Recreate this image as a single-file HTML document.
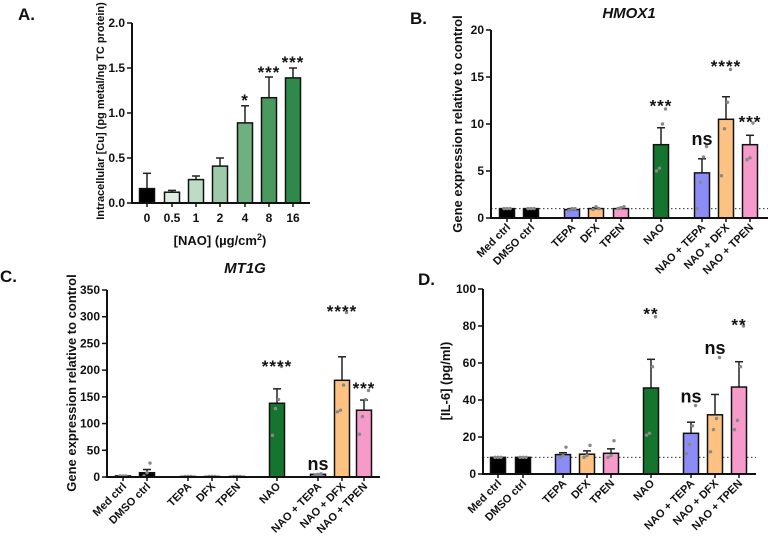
<!DOCTYPE html>
<html><head><meta charset="utf-8"><style>
body{margin:0;background:#fff;}
svg text{font-family:"Liberation Sans",sans-serif;font-weight:bold;fill:#111;}
</style></head><body>
<svg id="fig" width="768" height="536" viewBox="0 0 768 536" xmlns="http://www.w3.org/2000/svg"></svg>
<script>
// Panel A data
const aCats=["0","0.5","1","2","4","8","16"];
const aVals=[0.16,0.12,0.26,0.41,0.89,1.17,1.39];
const aErr=[0.33,0.14,0.30,0.50,1.08,1.40,1.50];
const aSig=["","","","","*","***","***"];
const aSigY=[null,null,null,null,1.19,1.50,1.61];
const aTicks=[0,0.5,1.0,1.5,2.0];
// Shared categories for B, C, D
const grpCats=["Med ctrl","DMSO ctrl","TEPA","DFX","TPEN","NAO","NAO + TEPA","NAO + DFX","NAO + TPEN"];
// Panel B
const bVals=[1,1,0.9,1,1,7.8,4.8,10.5,7.8];
const bErr=[1,1,1,1.1,1.1,9.6,6.3,12.9,8.8];
const bSig=["","","","","","***","ns","****","***"];
const bSigY=[null,null,null,null,null,12.4,8.4,16.6,10.7];
const bPts=[[1,1,1],[1,1,1],[0.8,1,1],[0.9,1.2,1],[1,1.1,1.2],[5,5.3,10,11.6],[1,3.8,6.5,7.6],[4.5,9.5,12.3,15.8],[6.2,6.4,10.1]];
const bTicks=[0,5,10,15,20];
// Panel C
const cVals=[2,8,1,1,1,138,5,181,125];
const cErr=[2,14,1,1,1,165,5,225,144];
const cSig=["","","","","","****","ns","****","***"];
const cSigY=[null,null,null,null,null,215,24,318,174];
const cPts=[[2,2,2],[2,8,26],[1,1,1],[1,1,1],[1,1,1],[78,128,145,207],[3,5,6],[122,125,172,308],[80,113,145,162]];
const cTicks=[0,50,100,150,200,250,300,350];
// Panel D
const dVals=[9,9,10.5,10.7,11.2,46.5,22,32,47];
const dErr=[9,9,11.5,12.5,13.6,62,28,43,60.7];
const dSig=["","","","","","**","ns","ns","**"];
const dSigY=[null,null,null,null,null,89,42,68,83];
const dPts=[[9,9,9],[9,9,9],[9,10,14.5],[9,10,15.5],[9,10,18],[21,22,58,85],[11,16,26,37],[12,24,30,63],[24,29,58,80]];
const dTicks=[0,20,40,60,80,100];

const grpColors=["#000","#000","#8b8cf6","#fdc282","#f69ac9","#15752f","#8b8cf6","#fdc282","#f69ac9"];
const aColors=["#000","#dcede1","#bddcc6","#9dcaa8","#6eb080","#4a9a5f","#2d8a4a"];
const NS="http://www.w3.org/2000/svg";
const svg=document.getElementById('fig');
function mk(tag,attrs,parent){const e=document.createElementNS(NS,tag);for(const k in attrs)e.setAttribute(k,attrs[k]);(parent||svg).appendChild(e);return e;}
function txt(x,y,s,size,anchor,extra){const t=mk('text',Object.assign({x:x,y:y,'font-size':size,'text-anchor':anchor||'middle'},extra||{}));t.textContent=s;return t;}

function panel(cfg){
  const g=mk('g',{});
  
  
  const y=v=>cfg.y0-(v-cfg.min)/(cfg.max-cfg.min)*(cfg.y0-cfg.y1);
  const xs=cfg.xs;
  if(cfg.ref!=null){const l=mk('line',{x1:cfg.ax,x2:cfg.axEnd,y1:y(cfg.ref),y2:y(cfg.ref),stroke:'#333','stroke-width':1,'stroke-dasharray':'1.5,2.5'},g);
    }
  cfg.vals.forEach((v,i)=>{
    const cx=xs[i],top=y(v);
    const eb=mk('line',{x1:cx,x2:cx,y1:y(cfg.err[i]),y2:top,stroke:'#222','stroke-width':1.5},g);
    
    mk('line',{x1:cx-4,x2:cx+4,y1:y(cfg.err[i]),y2:y(cfg.err[i]),stroke:'#222','stroke-width':1.5},g);
    const r=mk('rect',{x:cx-cfg.bw/2,y:top,width:cfg.bw,height:cfg.y0-top,fill:cfg.colors[i],stroke:'#111','stroke-width':1.5},g);
    
    
    if(cfg.pts){cfg.pts[i].forEach((p,j)=>{const n=cfg.pts[i].length;const c=mk('circle',{cx:cx+(n>1?(j-(n-1)/2)*3:0),cy:y(p),r:1.7,fill:'#888'},g);
      });}
    if(cfg.sig[i]){const s=cfg.sig[i];const isNs=s==='ns';
      const t=txt(cx,y(cfg.sigY[i])+(isNs?6:10),s,isNs?18:17,'middle',{'letter-spacing':isNs?0:1});
      g.appendChild(t);}
    mk('line',{x1:cx,x2:cx,y1:cfg.y0,y2:cfg.y0+4,stroke:'#111','stroke-width':1.5},g);
    let lt;
    if(cfg.rot){lt=txt(cx+4,cfg.y0+10,cfg.cats[i],11,'end',{transform:`rotate(-45 ${cx+4} ${cfg.y0+10})`});}
    else{lt=txt(cx,cfg.y0+19,cfg.cats[i],12,'middle');}
    g.appendChild(lt);
  });
  const ya=mk('line',{x1:cfg.ax,x2:cfg.ax,y1:cfg.y1,y2:cfg.y0+0.75,stroke:'#111','stroke-width':2},g);
  
  const xa=mk('line',{x1:cfg.ax-1,x2:cfg.axEnd,y1:cfg.y0,y2:cfg.y0,stroke:'#111','stroke-width':2},g);
  
  cfg.ticks.forEach(tv=>{mk('line',{x1:cfg.ax-5,x2:cfg.ax,y1:y(tv),y2:y(tv),stroke:'#111','stroke-width':1.5},g);
    const t=txt(cfg.ax-7,y(tv)+4,cfg.fmt?cfg.fmt(tv):String(tv),12,'end');
    g.appendChild(t);});
  const yt=txt(cfg.ytx,cfg.yty,cfg.ytitle,cfg.ytSize||13,'middle',{transform:`rotate(-90 ${cfg.ytx} ${cfg.yty})`});
  g.appendChild(yt);
}

panel({name:'panel-a-chart',cats:aCats,vals:aVals,err:aErr,sig:aSig,sigY:aSigY,colors:aColors,ticks:aTicks,fmt:v=>v.toFixed(1),
  min:0,max:2,y0:203,y1:23,ax:132,axEnd:310,xs:[147,172,196,220,245,269,293],bw:15,
  ytx:104,yty:111,ytitle:'Intracellular [Cu] (pg metal/ng TC protein)',ytSize:11});
panel({name:'panel-b-chart',cats:grpCats,vals:bVals,err:bErr,sig:bSig,sigY:bSigY,pts:bPts,colors:grpColors,ticks:bTicks,rot:true,ref:1,
  min:0,max:20,y0:218,y1:30,ax:491,axEnd:768,xs:[507,531,572,596,621,661,702,726,750],bw:15,
  ytx:462,yty:124,ytitle:'Gene expression relative to control'});
panel({name:'panel-c-chart',cats:grpCats,vals:cVals,err:cErr,sig:cSig,sigY:cSigY,pts:cPts,colors:grpColors,ticks:cTicks,rot:true,ref:1,
  min:0,max:350,y0:477,y1:290,ax:107,axEnd:380,xs:[123,147,188,212,237,277,318,342,364],bw:15,
  ytx:76,yty:383,ytitle:'Gene expression relative to control'});
panel({name:'panel-d-chart',cats:grpCats,vals:dVals,err:dErr,sig:dSig,sigY:dSigY,pts:dPts,colors:grpColors,ticks:dTicks,rot:true,ref:9,
  min:0,max:100,y0:474,y1:289,ax:483,axEnd:756,xs:[498,523,563,587,611,651,691,715,739],bw:15,
  ytx:450,yty:381,ytitle:'[IL-6] (pg/ml)'});

[["A.",18,20],["B.",410,24],["C.",0,282],["D.",418,285]].forEach(p=>{const t=txt(p[1],p[2],p[0],17,'start');
  });
let t=txt(629,18,'HMOX1',15,'middle',{'font-style':'italic'});

t=txt(245,273,'MT1G',15,'middle',{'font-style':'italic'});

t=mk('text',{x:220,y:245,'font-size':13,'text-anchor':'middle'});
t.innerHTML='[NAO] (µg/cm<tspan dy="-5" font-size="9">2</tspan><tspan dy="5">)</tspan>';

</script>
</body></html>
